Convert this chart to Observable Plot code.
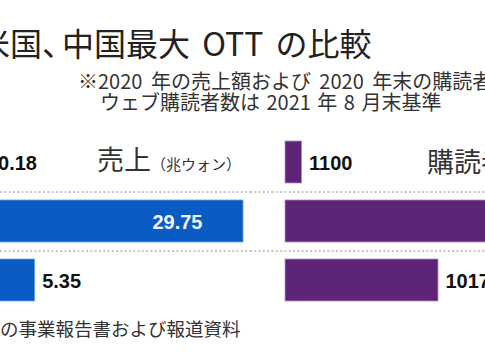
<!DOCTYPE html>
<html>
<head>
<meta charset="utf-8">
<script src="https://cdn.jsdelivr.net/npm/d3@7"></script>
<script src="https://cdn.jsdelivr.net/npm/@observablehq/plot@0.6"></script>
<style>
  html, body { margin: 0; padding: 0; background: #fff; overflow: hidden; }
  #root { position: relative; width: 485px; height: 360px; overflow: hidden; background: #fff;
          font-family: "Noto Sans CJK JP", "Noto Sans", sans-serif; color: #2b2b2b; }
  .abs { position: absolute; white-space: nowrap; }
  #title { left: -22px; top: 26px; font-size: 32px; line-height: 32px; color: #222; word-spacing: 5px; }
  #title .p { letter-spacing: -12px; }
  #sub1 { left: 78px; top: 71px; font-size: 20px; line-height: 20px; color: #333; word-spacing: 4px; }
  #sub2 { left: 100px; top: 92px; font-size: 20px; line-height: 20px; color: #333; word-spacing: 2px; }
  #h1 { left: 97px; top: 145px; font-size: 27px; line-height: 27px; color: #333; }
  #h1 span { font-size: 15px; }
  #h2 { left: 427px; top: 147px; font-size: 27px; line-height: 27px; color: #333; }
  #caption { left: 0px; top: 319px; font-size: 18.5px; line-height: 18.5px; color: #333; }
  #left { left: 0px; top: 124px; }
  #right { left: 250px; top: 124px; }
</style>
</head>
<body>
<div id="root">
  <div id="title" class="abs">米国<span class="p">、</span>中国最大 OTT の比較</div>
  <div id="sub1" class="abs">※2020 年の売上額および 2020 年末の購読者数</div>
  <div id="sub2" class="abs">ウェブ購読者数は 2021 年 8 月末基準</div>
  <div id="h1" class="abs">売上<span>（兆ウォン）</span></div>
  <div id="h2" class="abs">購読者数<span style="font-size:15px">（万人）</span></div>
  <div id="left" class="abs"></div>
  <div id="right" class="abs"></div>
  <div id="caption" class="abs">の事業報告書および報道資料</div>
</div>
<script>
// Data
const countries = ["韓国", "米国", "中国"];
const revenue = [0.18, 29.75, 5.35];          // 兆ウォン
const revenueLabels = ["0.18", "29.75", "5.35"];
const subscribers = [1100, 20370, 10170];     // 万人
const subscriberLabels = ["1100", "20370", "10170"];

const rows = countries.map((c, i) => ({
  country: c,
  revenue: revenue[i],
  rlabel: revenueLabels[i],
  subs: subscribers[i],
  slabel: subscriberLabels[i]
}));

const numFont = { fontFamily: "'Liberation Sans', Arial, sans-serif", fontWeight: "bold", fontSize: 20 };
const sep = countries.slice(1);
const yScale = { domain: countries, range: [0, 194], padding: 0.288, axis: null };

const left = Plot.plot({
  width: 250, height: 194, margin: 0,
  style: { overflow: "hidden", background: "transparent" },
  x: { domain: [0, 29.75], range: [-11, 243], axis: null },
  y: yScale,
  marks: [
    Plot.ruleY(sep, { y: d => d, dy: -29.5, stroke: "#8c8c8c", strokeDasharray: "2,2.3", strokeWidth: 1 }),
    Plot.barX(rows, { x: "revenue", y: "country", fill: "#0a5cc4", stroke: "#6f9fe0", strokeWidth: 0.8 }),
    Plot.text(rows.filter(d => d.revenue < 10), {
      x: "revenue", y: "country", text: "rlabel", textAnchor: "start", dx: 7, dy: 1, fill: "#111", ...numFont
    }),
    Plot.text(rows.filter(d => d.revenue >= 10), {
      x: "revenue", y: "country", text: "rlabel", textAnchor: "end", dx: -41, dy: 1, fill: "#eef4ff", ...numFont
    })
  ]
});
document.getElementById("left").appendChild(left);

const right = Plot.plot({
  width: 235, height: 194, margin: 0,
  style: { overflow: "hidden", background: "transparent" },
  x: { domain: [0, 10170], range: [35, 188], axis: null },
  y: yScale,
  marks: [
    Plot.ruleY(sep, { y: d => d, dy: -29.5, stroke: "#8c8c8c", strokeDasharray: "2,2.3", strokeWidth: 1 }),
    Plot.barX(rows, { x: "subs", y: "country", fill: "#5e2478", stroke: "#b58fcb", strokeWidth: 0.8 }),
    Plot.text(rows.filter(d => d.subs < 15000), {
      x: "subs", y: "country", text: "slabel", textAnchor: "start", dx: 7, dy: 1, fill: "#111", ...numFont
    })
  ]
});
document.getElementById("right").appendChild(right);
</script>
</body>
</html>
